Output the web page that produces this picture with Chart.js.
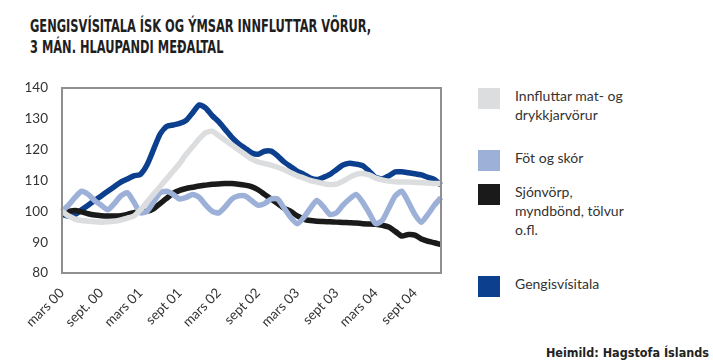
<!DOCTYPE html>
<html>
<head>
<meta charset="utf-8">
<script src="https://cdn.jsdelivr.net/npm/chart.js@4.4.1/dist/chart.umd.min.js"></script>
<style>
  body { margin: 0; background: #fff; width: 713px; height: 364px; overflow: hidden; position: relative; font-family: Lato, "Open Sans", sans-serif; }
  #title { position: absolute; left: 30px; top: 15px; font-family: "DejaVu Sans Condensed", "DejaVu Sans", sans-serif; font-weight: bold; font-size: 18px; line-height: 21px; color: #1e1e1e; transform: scaleX(0.705); transform-origin: 0 0; white-space: nowrap; }
  #wrap { position: absolute; left: 0; top: 0; width: 452px; height: 364px; }
  #legend { position: absolute; left: 478px; top: 86px; }
  .item { position: absolute; left: 0; }
  .sw { position: absolute; left: 0; top: 2px; width: 22px; height: 21px; }
  .lbl { position: absolute; left: 37px; top: 0; font-size: 14px; line-height: 19px; color: #333; white-space: nowrap; }
  #source { position: absolute; right: 4px; bottom: 4px; font-family: "DejaVu Sans Condensed", sans-serif; font-weight: bold; font-size: 12.5px; color: #222; }
</style>
</head>
<body>
<div id="title">GENGISVÍSITALA ÍSK OG ÝMSAR INNFLUTTAR VÖRUR,<br>3 MÁN. HLAUPANDI MEÐALTAL</div>
<div id="wrap"><canvas id="chart"></canvas></div>
<div id="legend"></div>
<div id="source">Heimild: Hagstofa Íslands</div>
<script>
// monthly, mars 2000 - jan 2005
const months = ["jan", "feb", "mars", "apr", "maí", "jún", "júl", "ágú", "sept", "okt", "nóv", "des"];
const tickLabels = ["mars 00", "sept. 00", "mars 01", "sept 01", "mars 02", "sept 02", "mars 03", "sept 03", "mars 04", "sept 04"];

const seriesNames = [
  ["Innfluttar mat- og", "drykkjarvörur"],
  ["Föt og skór"],
  ["Sjónvörp,", "myndbönd, tölvur", "o.fl."],
  ["Gengisvísitala"]
];
const seriesColors = ["#dcdddf", "#9db0d8", "#1b1a1a", "#0c3f8d"];

const matDrykkur = [100, 98.5, 97.5, 97, 96.8, 96.6, 96.5, 96.6, 96.8, 97.2, 97.8, 98.5,
  100.5, 103, 105.5, 108, 110.5, 113, 115.5, 118.5, 121, 123.5, 125.5, 126,
  124.5, 123, 121.5, 120, 118.5, 117, 116, 115.5, 115, 114.3, 113.5, 112.5,
  111.5, 110.8, 110, 109.5, 109, 108.7, 108.8, 109.8, 111, 112, 112.3, 111.8,
  110.8, 110.2, 109.8, 109.6, 109.5, 109.5, 109.4, 109.3, 109.2, 109, 109];
const fotSkor = [100, 102, 104.5, 106.5, 105.5, 103.5, 102, 100.5, 102.5, 105, 106, 103,
  99.5, 100, 103, 106, 106.5, 105.5, 104, 104.5, 105.5, 104.5, 102, 100,
  99.5, 101.5, 104, 105, 105, 103.5, 102, 102.5, 104, 104, 101, 98,
  96, 98, 101, 103.5, 101.5, 99, 99.5, 102, 104, 105.5, 103, 99.5,
  96, 97, 101, 105, 106.5, 103, 99, 96.5, 99, 102, 104.5];
const sjonvorp = [99.5, 100, 100.3, 99.8, 99.2, 98.8, 98.6, 98.5, 98.5, 98.6, 99, 99.6,
  100, 100, 100.8, 102.5, 104.2, 105.8, 106.8, 107.4, 107.8, 108.2, 108.5, 108.8,
  108.9, 109, 109, 108.8, 108.5, 108, 107, 105.5, 104, 102.5, 101, 100,
  98.5, 97.5, 97, 96.8, 96.7, 96.6, 96.5, 96.4, 96.3, 96.2, 96, 95.9,
  95.8, 95.5, 94.9, 93.5, 92, 92.5, 92.3, 91, 90.3, 89.8, 89.2];
const gengi = [99, 98.5, 99, 100.5, 102, 103.5, 105, 106.5, 108, 109.5, 110.5, 111.5,
  112, 115, 120, 125, 127.5, 128, 128.5, 129.5, 132, 134.5, 133.5, 131,
  129, 126.5, 124, 122, 120.5, 119, 118.5, 119.5, 119.5, 118, 116, 114.5,
  113, 112, 110.8, 110.3, 111, 112, 113.5, 115, 115.6, 115.3, 114.8, 113,
  111, 110.5, 111.5, 112.8, 112.8, 112.5, 112.2, 111.8, 111, 110.3, 108.5];

const labels = [];
for (let i = 0; i < gengi.length; i++) {
  const m = (2 + i) % 12;
  const y = 2000 + Math.floor((2 + i) / 12);
  labels.push(months[m] + " " + String(y).slice(2));
}

const frame = {
  id: 'frame',
  afterDatasetsDraw(chart) {
    const a = chart.chartArea;
    const ctx = chart.ctx;
    ctx.save();
    ctx.strokeStyle = '#8f8f8f';
    ctx.lineWidth = 2;
    ctx.strokeRect(a.left, a.top, a.right - a.left, a.bottom - a.top);
    ctx.restore();
  }
};

const allData = [matDrykkur, fotSkor, sjonvorp, gengi];

new Chart(document.getElementById("chart"), {
  type: 'line',
  data: {
    labels: labels,
    datasets: allData.map((d, i) => ({
      label: seriesNames[i].join(" "),
      data: d,
      borderColor: seriesColors[i],
      backgroundColor: seriesColors[i],
      borderWidth: 5.5,
      pointRadius: 0,
      tension: 0.2,
      borderCapStyle: 'butt'
    }))
  },
  plugins: [frame],
  options: {
    responsive: true,
    maintainAspectRatio: false,
    animation: false,
    layout: { padding: { top: 88, right: 11, left: 0, bottom: 0 } },
    plugins: { legend: { display: false }, tooltip: { enabled: false } },
    scales: {
      x: {
        offset: false,
        grid: { display: false },
        border: { display: false },
        afterFit: (s) => { s.height = 91; },
        ticks: {
          autoSkip: false,
          maxRotation: 45,
          minRotation: 45,
          padding: 4,
          color: '#333',
          font: { family: 'Lato', size: 13.5 },
          callback: function (v, i) {
            return i % 6 === 0 ? tickLabels[i / 6] : null;
          }
        }
      },
      y: {
        min: 80,
        max: 140,
        grid: { display: false },
        border: { display: false },
        afterFit: (s) => { s.width = 62; },
        ticks: {
          stepSize: 10,
          padding: 6,
          color: '#333',
          font: { family: 'Lato', size: 13.5 }
        }
      }
    }
  }
});

// legend on the right
const legendTops = [0, 62, 96, 188];
const legend = document.getElementById("legend");
seriesNames.forEach((lines, i) => {
  const item = document.createElement("div");
  item.className = "item";
  item.style.top = legendTops[i] + "px";
  item.innerHTML = '<div class="sw" style="background:' + seriesColors[i] + '"></div>' +
    '<div class="lbl">' + lines.join("<br>") + '</div>';
  legend.appendChild(item);
});
</script>
</body>
</html>
